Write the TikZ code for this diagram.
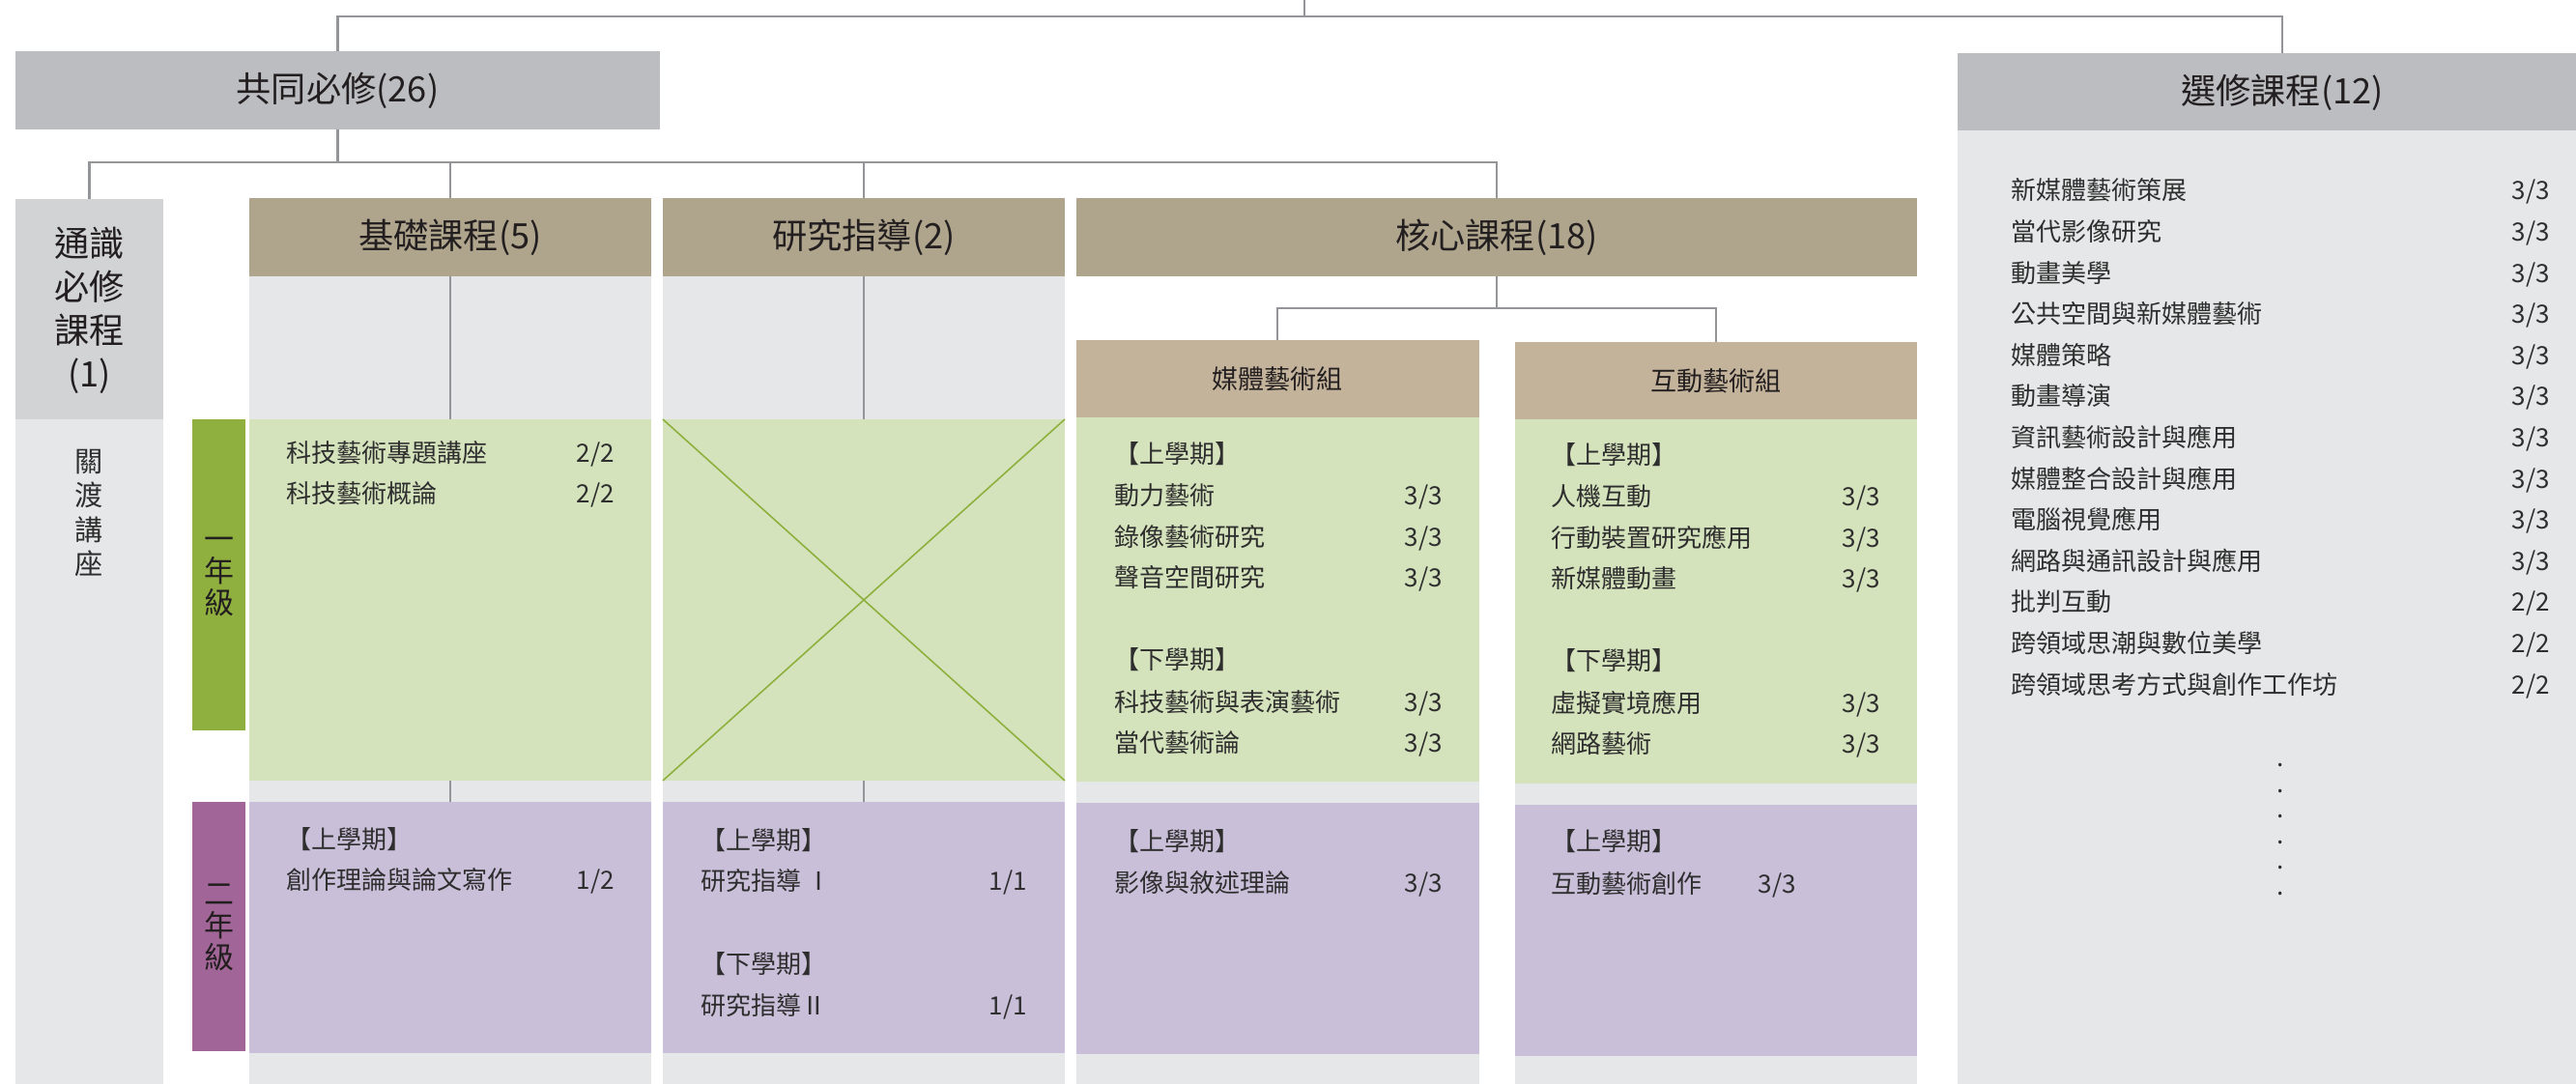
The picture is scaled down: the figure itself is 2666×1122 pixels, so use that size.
\documentclass[tikz,border=0pt]{standalone}
\usepackage{fontspec}
\setmainfont{Noto Sans CJK TC}
\usetikzlibrary{fit}
\definecolor{hdrgray}{HTML}{BCBDC0}
\definecolor{gengray}{HTML}{D1D3D4}
\definecolor{bodygray}{HTML}{E6E7E8}
\definecolor{hdrtan}{HTML}{AFA48C}
\definecolor{subtan}{HTML}{C4B39B}
\definecolor{lgreen}{HTML}{D5E3BD}
\definecolor{lpurple}{HTML}{C9BFD9}
\definecolor{bargreen}{HTML}{8FB03E}
\definecolor{barpurple}{HTML}{A26597}
\definecolor{xgreen}{HTML}{8DB03C}
\definecolor{linegray}{HTML}{939598}
\definecolor{txtc}{HTML}{2E2E2E}
\definecolor{ttlc}{HTML}{231F20}
\tikzset{
  area/.style={inner sep=0pt, outer sep=0pt, draw=none},
  conn/.style={draw=linegray, line width=0.6pt},
  ttl/.style={font=\fontsize{10.3}{12}\selectfont, text=ttlc, inner sep=0pt},
  subttl/.style={font=\fontsize{7.7}{9}\selectfont, text=ttlc, inner sep=0pt},
  vert/.style={align=center, text=ttlc, inner sep=0pt},
  body/.style={font=\fontsize{7.4}{9}\selectfont, text=txtc, inner sep=0pt, outer sep=0pt},
  lt/.style={body, anchor=base west},
  rt/.style={body, anchor=base east},
}
\begin{document}
\begin{tikzpicture}[x=0.01cm, y=-0.01cm]
\useasboundingbox (0,0) rectangle (2666,1122);
% backgrounds
\fill[bodygray] (16,434) rectangle (169,1122);
\fill[bodygray] (258,286) rectangle (674,1122);
\fill[bodygray] (686,286) rectangle (1102,1122);
\fill[bodygray] (1114,432) rectangle (1530.5,1122);
\fill[bodygray] (1568,434) rectangle (1984,1122);
\fill[bodygray] (2026,135) rectangle (2666,1122);
% header boxes
\node[area, fill=hdrgray, fit={(16,53) (683,134)}] (common) {};
\node[area, fill=hdrgray, fit={(2026,55) (2666,135)}] (elective) {};
\node[area, fill=gengray, fit={(16,206) (169,434)}] (general) {};
\node[area, fill=hdrtan, fit={(258,205) (674,286)}] (found) {};
\node[area, fill=hdrtan, fit={(686,205) (1102,286)}] (research) {};
\node[area, fill=hdrtan, fit={(1114,205) (1984,286)}] (core) {};
\node[area, fill=subtan, fit={(1114,352) (1530.5,432)}] (media) {};
\node[area, fill=subtan, fit={(1568,354) (1984,434)}] (inter) {};
% header titles
\node[ttl] (commont) at (349.5,94) {共同必修(26)};
\node[ttl] (electivet) at (2362,96) {選修課程(12)};
\node[vert, font=\fontsize{10.3}{12.8}\selectfont] (generalt) at (92.5,321) {通識\\必修\\課程\\(1)};
\node[ttl] (foundt) at (466,246) {基礎課程(5)};
\node[ttl] (researcht) at (894,246) {研究指導(2)};
\node[ttl] (coret) at (1549,246) {核心課程(18)};
\node[subttl] (mediat) at (1322,392) {媒體藝術組};
\node[subttl] (intert) at (1776,394) {互動藝術組};
\node[vert, font=\fontsize{8.3}{10.1}\selectfont, text=txtc] (guandu) at (92.5,531) {關\\渡\\講\\座};
% year bars
\node[area, fill=bargreen, fit={(199,434) (254,756)}] (year1) {};
\node[area, fill=barpurple, fit={(199,830) (254,1088)}] (year2) {};
\node[vert, font=\fontsize{8.8}{9.3}\selectfont] (year1t) at (227,597) {一\\年\\級};
\node[vert, font=\fontsize{8.8}{9.3}\selectfont] (year2t) at (227,960) {二\\年\\級};
% green / purple areas
\node[area, fill=lgreen, fit={(258,434) (674,808)}] (fg) {};
\node[area, fill=lpurple, fit={(258,830) (674,1090)}] (fp) {};
\node[area, fill=lgreen, fit={(686,434) (1102,808)}] (rg) {};
\node[area, fill=lpurple, fit={(686,830) (1102,1090)}] (rp) {};
\node[area, fill=lgreen, fit={(1114,432) (1530.5,809)}] (mg) {};
\node[area, fill=lpurple, fit={(1114,831) (1530.5,1091)}] (mp) {};
\node[area, fill=lgreen, fit={(1568,434) (1984,811)}] (ig) {};
\node[area, fill=lpurple, fit={(1568,833) (1984,1093)}] (ip) {};
\draw[xgreen, line width=0.45pt] (rg.north west) -- (rg.south east) (rg.south west) -- (rg.north east);
% connectors
\coordinate (root) at (1350,0);
\coordinate (j0) at (1350,17);
\draw[conn] (root) -- (j0);
\draw[conn] (common.north) |- (j0);
\draw[conn] (j0) -| (electivet.north |- elective.north);
\coordinate (j1) at (349.5,168);
\draw[conn] (common.south) -- (j1);
\draw[conn] (general.north) |- (j1);
\draw[conn] (j1) -| (core.north);
\draw[conn] (found.north) -- (found.north |- j1);
\draw[conn] (research.north) -- (research.north |- j1);
\draw[conn] (found.south) -- (fg.north);
\draw[conn] (fg.south) -- (fp.north);
\draw[conn] (research.south) -- (rg.north);
\draw[conn] (rg.south) -- (rp.north);
\coordinate (j2) at (1549,319);
\draw[conn] (core.south) -- (j2);
\draw[conn] (media.north) |- (j2) -| (inter.north);
% foundation texts
\node[lt] (f1) at (296,479) {科技藝術專題講座};
\node[rt] (f1c) at (636,479) {2/2};
\node[lt] (f2) at (296,521) {科技藝術概論};
\node[rt] (f2c) at (636,521) {2/2};
\node[lt] (f3) at (296,879) {【上學期】};
\node[lt] (f4) at (296,921) {創作理論與論文寫作};
\node[rt] (f4c) at (636,921) {1/2};
% research texts
\node[lt] (r1) at (725,879.5) {【上學期】};
\node[lt] (r2) at (725,921.5) {研究指導 Ⅰ};
\node[rt] (r2c) at (1063,921.5) {1/1};
\node[lt] (r3) at (725,1007) {【下學期】};
\node[lt] (r4) at (725,1050) {研究指導Ⅱ};
\node[rt] (r4c) at (1063,1050) {1/1};
% media texts
\node[lt] (m1) at (1153,480) {【上學期】};
\node[lt] (m2) at (1153,523) {動力藝術};
\node[rt] (m2c) at (1493,523) {3/3};
\node[lt] (m3) at (1153,565.5) {錄像藝術研究};
\node[rt] (m3c) at (1493,565.5) {3/3};
\node[lt] (m4) at (1153,608) {聲音空間研究};
\node[rt] (m4c) at (1493,608) {3/3};
\node[lt] (m5) at (1153,693) {【下學期】};
\node[lt] (m6) at (1153,737) {科技藝術與表演藝術};
\node[rt] (m6c) at (1493,737) {3/3};
\node[lt] (m7) at (1153,779) {當代藝術論};
\node[rt] (m7c) at (1493,779) {3/3};
\node[lt] (m8) at (1153,880) {【上學期】};
\node[lt] (m9) at (1153,923) {影像與敘述理論};
\node[rt] (m9c) at (1493,923) {3/3};
% interactive texts
\node[lt] (i1) at (1605,481) {【上學期】};
\node[lt] (i2) at (1605,524) {人機互動};
\node[rt] (i2c) at (1946,524) {3/3};
\node[lt] (i3) at (1605,566.5) {行動裝置研究應用};
\node[rt] (i3c) at (1946,566.5) {3/3};
\node[lt] (i4) at (1605,609) {新媒體動畫};
\node[rt] (i4c) at (1946,609) {3/3};
\node[lt] (i5) at (1605,694) {【下學期】};
\node[lt] (i6) at (1605,738) {虛擬實境應用};
\node[rt] (i6c) at (1946,738) {3/3};
\node[lt] (i7) at (1605,780) {網路藝術};
\node[rt] (i7c) at (1946,780) {3/3};
\node[lt] (i8) at (1605,881) {【上學期】};
\node[lt] (i9) at (1605,924) {互動藝術創作};
\node[rt] (i9c) at (1859,924) {3/3};
% electives
\foreach \t/\c [count=\i from 0] in {新媒體藝術策展/3\slash 3, 當代影像研究/3\slash 3, 動畫美學/3\slash 3, 公共空間與新媒體藝術/3\slash 3, 媒體策略/3\slash 3, 動畫導演/3\slash 3, 資訊藝術設計與應用/3\slash 3, 媒體整合設計與應用/3\slash 3, 電腦視覺應用/3\slash 3, 網路與通訊設計與應用/3\slash 3, 批判互動/2\slash 2, 跨領域思潮與數位美學/2\slash 2, 跨領域思考方式與創作工作坊/2\slash 2}{
  \node[lt] (e\i) at (2081,{207+42.6*\i}) {\t};
  \node[rt] (e\i c) at (2639,{207+42.6*\i}) {\c};
}
\foreach \k in {0,...,5}{
  \node[body, anchor=base] (dot\k) at (2360,{794+26.4*\k}) {.};
}
\end{tikzpicture}
\end{document}
